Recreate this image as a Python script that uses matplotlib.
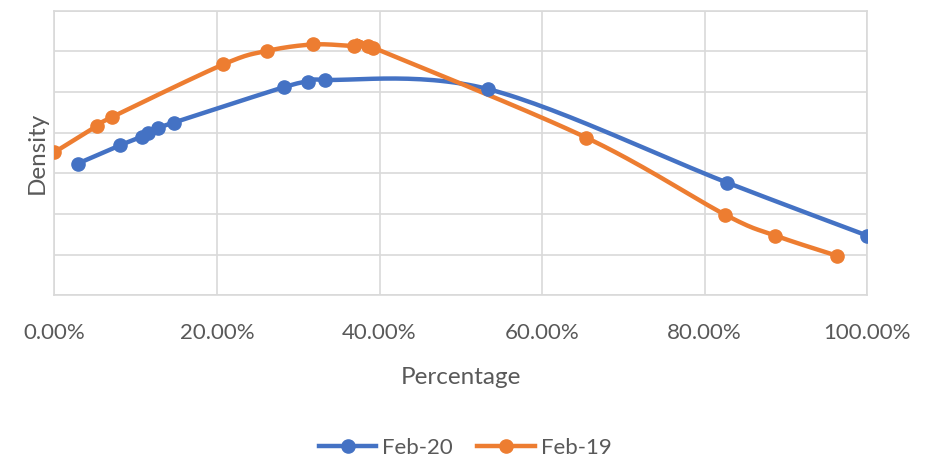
import numpy as np
import matplotlib
matplotlib.use("Agg")
import matplotlib.pyplot as plt
from matplotlib.ticker import FuncFormatter

plt.rcParams['font.family'] = ['Lato', 'DejaVu Sans']

# values (x in percent, y in arbitrary density units)
feb20_x = [2.86, 8.06, 10.73, 11.54, 12.70, 14.71, 28.25, 31.24, 33.29, 53.39, 82.80, 100.0]
feb20_y = [3.24, 3.69, 3.90, 3.98, 4.11, 4.25, 5.12, 5.25, 5.30, 5.07, 2.77, 1.47]

feb19_x = [0.0, 5.19, 7.04, 20.78, 26.12, 31.85, 36.86, 38.62, 39.24, 65.42, 82.56, 88.71, 96.34]
feb19_y = [3.52, 4.16, 4.38, 5.68, 6.01, 6.17, 6.13, 6.13, 6.09, 3.88, 1.98, 1.47, 0.97]

blue = '#4472C4'
orange = '#ED7D31'
grid_col = '#D9D9D9'
text_col = '#595959'


def smooth(xs, ys, n=30):
    # excel-like smoothed line: cubic bezier with catmull-rom control points
    p = np.column_stack([xs, ys]).astype(float)
    out = [p[0]]
    t = np.linspace(0, 1, n)[1:, None]
    for i in range(len(p) - 1):
        p0 = p[i - 1] if i > 0 else p[i]
        p1, p2 = p[i], p[i + 1]
        p3 = p[i + 2] if i + 2 < len(p) else p[i + 1]
        c1 = p1 + (p2 - p0) / 6
        c2 = p2 - (p3 - p1) / 6
        seg = ((1 - t) ** 3) * p1 + 3 * ((1 - t) ** 2) * t * c1 + 3 * (1 - t) * t ** 2 * c2 + t ** 3 * p2
        out.extend(seg)
    out = np.array(out)
    return out[:, 0], out[:, 1]


fig = plt.figure(figsize=(9.3, 4.61), dpi=100)
ax = fig.add_axes([0.0586, 0.3594, 0.8737, 0.6174])

for xs, ys, col, lab in [(feb20_x, feb20_y, blue, 'Feb-20'), (feb19_x, feb19_y, orange, 'Feb-19')]:
    sx, sy = smooth(xs, ys)
    ax.plot(sx, sy, color=col, lw=3.2, solid_capstyle='round', zorder=3)
    ax.plot(xs, ys, 'o', color=col, ms=9.5, zorder=4)
    ax.plot([], [], color=col, lw=3.2, marker='o', ms=9.5, label=lab)

ax.set_xlim(0, 100)
ax.set_ylim(0, 7)
ax.set_xticks(np.arange(0, 101, 20))
ax.set_yticks(np.arange(0, 8, 1))
ax.xaxis.set_major_formatter(FuncFormatter(lambda v, _: f"{v:.2f}%"))
ax.set_yticklabels([])
ax.grid(True, color=grid_col, lw=1.2)
ax.set_axisbelow(True)
for s in ax.spines.values():
    s.set_color(grid_col)
    s.set_linewidth(1.2)
ax.tick_params(length=0, labelsize=16, labelcolor=text_col)
ax.tick_params(axis='x', pad=20)
ax.tick_params(axis='y', pad=0)

ax.set_xlabel('Percentage', fontsize=17.5, color=text_col, labelpad=17)
ax.set_ylabel('Density', fontsize=17.5, color=text_col, labelpad=5)

fig.legend(loc='lower center', bbox_to_anchor=(0.5, -0.037), ncol=2, frameon=False,
           fontsize=16, handlelength=2.6, handletextpad=0.25, columnspacing=1.1,
           labelcolor=text_col)

fig.savefig('out.png', dpi=100)
